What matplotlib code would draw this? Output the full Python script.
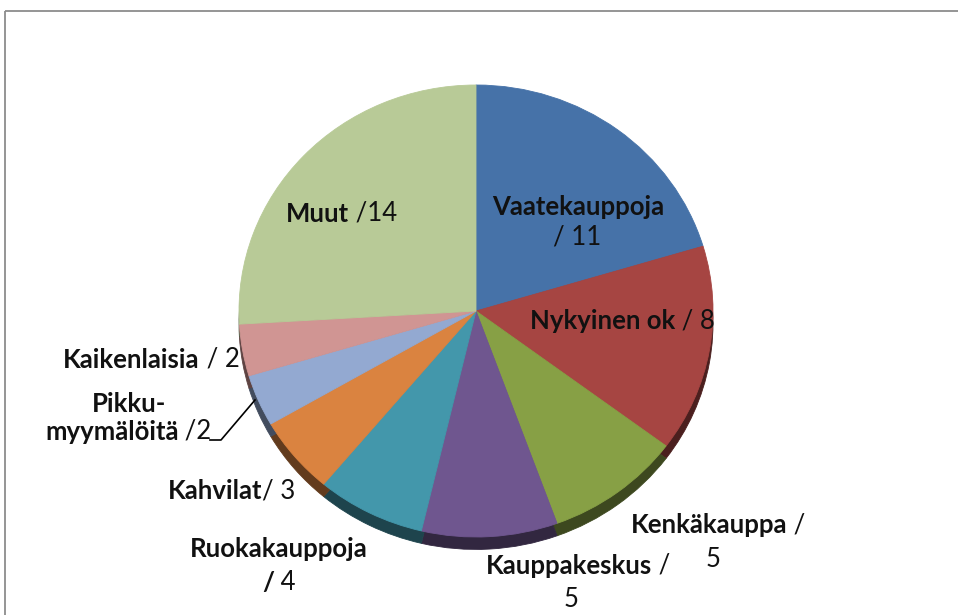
import matplotlib.pyplot as plt
from matplotlib.patches import Rectangle
from matplotlib.colors import to_rgb

plt.rcParams['font.family'] = ['Lato', 'DejaVu Sans']

# data
categories = ['Vaatekauppoja', 'Nykyinen ok', 'Kenkäkauppa', 'Kauppakeskus',
              'Ruokakauppoja', 'Kahvilat', 'Pikkumyymälöitä', 'Kaikenlaisia', 'Muut']
values = [11, 8, 5, 5, 4, 3, 2, 2, 14]
colors = ['#4672A8', '#A64542', '#87A045', '#6F568F', '#4397AB',
          '#DA8340', '#93A9D1', '#D09593', '#B8CA97']

fig = plt.figure(figsize=(9.58, 6.15), dpi=100)

# background axes in pixel coords (frame)
bg = fig.add_axes([0, 0, 1, 1], zorder=0)
bg.set_xlim(0, 958)
bg.set_ylim(615, 0)
bg.axis('off')
bg.add_patch(Rectangle((5.5, 11), 1000, 700, fill=False, ec='#8c8c8c', lw=1.3))

# pie axes = bounding box of the (slightly flattened) pie
pax = fig.add_axes([239 / 958, (615 - 537) / 615, 474 / 958, 452 / 615], zorder=1)
dark = [tuple(c * 0.45 for c in to_rgb(col)) for col in colors]
# side of the 3D pie, drawn first and shifted down
sh, _ = pax.pie(values, colors=dark, startangle=90, counterclock=False,
                radius=1, center=(0, -0.055),
                wedgeprops=dict(linewidth=0.6, edgecolor=None))
for w in sh:
    w.set_edgecolor(w.get_facecolor())
    w.set_clip_on(False)
wedges, _ = pax.pie(values, colors=colors, startangle=90, counterclock=False,
                    radius=1, wedgeprops=dict(linewidth=0.6))
for w in wedges:
    w.set_edgecolor(w.get_facecolor())
    w.set_clip_on(False)
pax.set_aspect('auto')
pax.set_xlim(-1, 1)
pax.set_ylim(-1, 1)
pax.axis('off')

# text overlay
tx = fig.add_axes([0, 0, 1, 1], zorder=2)
tx.set_xlim(0, 958)
tx.set_ylim(615, 0)
tx.axis('off')
tx.patch.set_alpha(0)

fs = 18.5


def label(x, y, bold, normal='', ha='left'):
    t = tx.text(x, y, bold, fontsize=fs, fontweight='bold', ha=ha, va='baseline', color='#111111')
    if normal:
        tx.annotate(normal, xy=(1, 0), xycoords=t, ha='left', va='bottom',
                    fontsize=fs, color='#111111')
    return t


def plain(x, y, s):
    tx.text(x, y, s, fontsize=fs, ha='center', va='baseline', color='#111111')


label(578, 215, categories[0], ha='center')
plain(577, 245, '/ 11')
label(530, 329, categories[1], ' / %d' % values[1])
label(631, 533, 'Kenkäkauppa', ' /')
plain(713, 567, str(values[2]))
label(486, 574, 'Kauppakeskus', ' /')
plain(571, 607, str(values[3]))
label(190, 557, categories[4])
label(262, 591, '/', ' %d' % values[4])
label(168, 499, 'Kahvilat', '/ %d' % values[5])
label(92, 412, 'Pikku-')
label(45, 440, 'myymälöitä', ' /%d' % values[6])
label(63, 368, categories[7], ' / %d' % values[7])
label(286, 222, categories[8], ' /%d' % values[8])

# leader line for Pikkumyymälöitä
tx.plot([210, 221, 255], [440, 440, 400], color='black', lw=1.2)

fig.savefig('out.png', dpi=100)
